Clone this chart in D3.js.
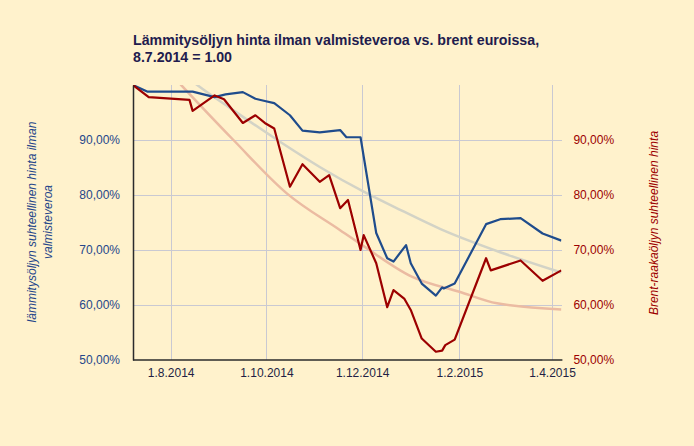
<!DOCTYPE html>
<html>
<head>
<meta charset="utf-8">
<script src="https://cdn.jsdelivr.net/npm/d3@7"></script>
<style>
  body { margin: 0; background: #fff2cc; }
  svg { display: block; font-family: 'Liberation Sans', Arial, sans-serif; }
</style>
</head>
<body>
<div id="chart"></div>
<script>
// heating oil price without excise tax vs. brent in euros, index 8.7.2014 = 1
const oilDates = ['2014-07-08', '2014-07-17', '2014-08-15', '2014-08-29', '2014-09-05', '2014-09-16',
  '2014-09-24', '2014-09-30', '2014-10-06', '2014-10-16', '2014-10-24', '2014-11-04', '2014-11-17',
  '2014-11-21', '2014-11-30', '2014-12-10', '2014-12-17', '2014-12-21', '2014-12-29', '2015-01-01',
  '2015-01-08', '2015-01-17', '2015-01-21', '2015-01-22', '2015-01-29', '2015-02-18', '2015-02-27',
  '2015-03-12', '2015-03-26', '2015-04-07']
const oilValues = [1.000, 0.988, 0.988, 0.978, 0.983, 0.987, 0.975, 0.971, 0.967, 0.945, 0.917, 0.914,
  0.918, 0.905, 0.905, 0.731, 0.685, 0.679, 0.709, 0.676, 0.639, 0.617, 0.632, 0.630, 0.639, 0.747,
  0.756, 0.758, 0.730, 0.717]

const brentDates = ['2014-07-08', '2014-07-18', '2014-08-13', '2014-08-15', '2014-08-29', '2014-09-04',
  '2014-09-16', '2014-09-24', '2014-09-30', '2014-10-06', '2014-10-16', '2014-10-24', '2014-11-04',
  '2014-11-10', '2014-11-17', '2014-11-22', '2014-11-30', '2014-12-02', '2014-12-10', '2014-12-17',
  '2014-12-21', '2014-12-28', '2015-01-01', '2015-01-08', '2015-01-17', '2015-01-21', '2015-01-23',
  '2015-01-29', '2015-02-18', '2015-02-21', '2015-03-12', '2015-03-26', '2015-04-07']
const brentValues = [1.000, 0.978, 0.973, 0.953, 0.981, 0.974, 0.931, 0.945, 0.931, 0.921, 0.815, 0.856,
  0.824, 0.836, 0.776, 0.791, 0.700, 0.727, 0.676, 0.596, 0.627, 0.611, 0.591, 0.539, 0.515, 0.517,
  0.527, 0.537, 0.685, 0.663, 0.681, 0.644, 0.663]

// trend curves
const oilTrendDates = ['2014-08-01', '2014-08-17', '2014-09-08', '2014-10-08', '2014-11-04', '2014-12-02',
  '2014-12-26', '2015-01-20', '2015-02-27', '2015-04-07']
const oilTrendValues = [1.040, 1.002, 0.958, 0.900, 0.851, 0.806, 0.772, 0.738, 0.696, 0.659]
const brentTrendDates = ['2014-07-25', '2014-08-08', '2014-09-10', '2014-10-14', '2014-11-17', '2014-12-02',
  '2015-01-02', '2015-02-01', '2015-02-25', '2015-04-07']
const brentTrendValues = [1.042, 0.999, 0.900, 0.803, 0.736, 0.707, 0.651, 0.624, 0.603, 0.592]

const xTicks = ['2014-08-01', '2014-10-01', '2014-12-01', '2015-02-01', '2015-04-01']
const yTicks = [0.5, 0.6, 0.7, 0.8, 0.9]

const title = ['Lämmitysöljyn hinta ilman valmisteveroa vs. brent euroissa,', '8.7.2014 = 1.00']
const leftTitle = ['lämmitysöljyn suhteellinen hinta ilman', 'valmisteveroa']
const rightTitle = 'Brent-raakaöljyn suhteellinen hinta'

const parse = d3.timeParse('%Y-%m-%d')
const fi = d3.formatLocale({ decimal: ',', thousands: ' ', grouping: [3], currency: ['', ' €'] })
const pct = fi.format('.2%')

const width = 694
const height = 446
const m = { top: 85, right: 132.6, bottom: 86, left: 133 }

const svg = d3.select('#chart').append('svg')
  .attr('width', width)
  .attr('height', height)

svg.append('rect').attr('width', width).attr('height', height).attr('fill', '#fff2cc')

const x = d3.scaleTime()
  .domain([parse('2014-07-08'), parse('2015-04-07')])
  .range([m.left, width - m.right])
const y = d3.scaleLinear()
  .domain([0.5, 1])
  .range([height - m.bottom, m.top])

svg.append('clipPath').attr('id', 'plot')
  .append('rect')
  .attr('x', m.left).attr('y', m.top)
  .attr('width', width - m.right - m.left)
  .attr('height', height - m.bottom - m.top)

// grid
const grid = svg.append('g').attr('stroke', '#c9c9d2').attr('stroke-width', 1)
grid.selectAll('.hg')
  .data(yTicks.slice(1))
  .enter().append('line')
  .attr('x1', m.left).attr('x2', width - m.right + 0.6)
  .attr('y1', d => Math.round(y(d)) + 0.5).attr('y2', d => Math.round(y(d)) + 0.5)
grid.selectAll('.vg')
  .data(xTicks)
  .enter().append('line')
  .attr('x1', d => Math.round(x(parse(d))) + 0.5).attr('x2', d => Math.round(x(parse(d))) + 0.5)
  .attr('y1', m.top).attr('y2', height - m.bottom)

const line = (dates, vals, curve) => d3.line()
  .x((d, i) => x(parse(dates[i])))
  .y(d => y(d))
  .curve(curve)(vals)

const plot = svg.append('g').attr('clip-path', 'url(#plot)').attr('fill', 'none')
plot.append('path')
  .attr('d', line(oilTrendDates, oilTrendValues, d3.curveMonotoneX))
  .attr('stroke', '#d3d3c6').attr('stroke-width', 2.5)
plot.append('path')
  .attr('d', line(brentTrendDates, brentTrendValues, d3.curveMonotoneX))
  .attr('stroke', '#ebbba2').attr('stroke-width', 2.5)
plot.append('path')
  .attr('d', line(oilDates, oilValues, d3.curveLinear))
  .attr('stroke', '#1f4c8c').attr('stroke-width', 2.2).attr('stroke-linejoin', 'round')
plot.append('path')
  .attr('d', line(brentDates, brentValues, d3.curveLinear))
  .attr('stroke', '#9c0000').attr('stroke-width', 2.2).attr('stroke-linejoin', 'round')

// axes
const left = svg.append('g')
  .attr('transform', 'translate(' + m.left + ',0)')
  .call(d3.axisLeft(y).tickValues(yTicks).tickFormat(pct).tickSize(0).tickPadding(13))
left.select('.domain').attr('stroke', '#2b2b2b').attr('stroke-width', 1.5)
left.selectAll('text').attr('fill', '#25468a').attr('font-size', 12)
  .attr('font-family', "'Liberation Sans', Arial, sans-serif")

const right = svg.append('g')
  .attr('transform', 'translate(' + (width - m.right) + ',0)')
  .call(d3.axisRight(y).tickValues(yTicks).tickFormat(pct).tickSize(0).tickPadding(12))
right.select('.domain').remove()
right.selectAll('text').attr('fill', '#9c0000').attr('font-size', 12)
  .attr('font-family', "'Liberation Sans', Arial, sans-serif")

const bottom = svg.append('g')
  .attr('transform', 'translate(0,' + (height - m.bottom) + ')')
  .call(d3.axisBottom(x).tickValues(xTicks.map(parse)).tickFormat(d3.timeFormat('%-d.%-m.%Y')).tickSize(0).tickPadding(8.5))
bottom.select('.domain').attr('stroke', '#2b2b2b').attr('stroke-width', 1.5)
  .attr('d', 'M' + m.left + ',0H' + (width - m.right + 1))
bottom.selectAll('text').attr('fill', '#231f45').attr('font-size', 12)
  .attr('font-family', "'Liberation Sans', Arial, sans-serif")

// titles
svg.append('g').selectAll('text')
  .data(title)
  .enter().append('text')
  .attr('x', m.left)
  .attr('y', (d, i) => 45 + i * 17)
  .attr('font-size', 14.2)
  .attr('font-weight', 'bold')
  .attr('fill', '#221c4e')
  .text(d => d)

svg.append('g').selectAll('text')
  .data(leftTitle)
  .enter().append('text')
  .attr('transform', (d, i) => 'translate(' + (36 + i * 16) + ',222) rotate(-90)')
  .attr('text-anchor', 'middle')
  .attr('font-size', 12)
  .attr('font-style', 'italic')
  .attr('fill', '#25468a')
  .text(d => d)

svg.append('text')
  .attr('transform', 'translate(658,223) rotate(-90)')
  .attr('text-anchor', 'middle')
  .attr('font-size', 12)
  .attr('font-style', 'italic')
  .attr('fill', '#9c0000')
  .text(rightTitle)
</script>
</body>
</html>
